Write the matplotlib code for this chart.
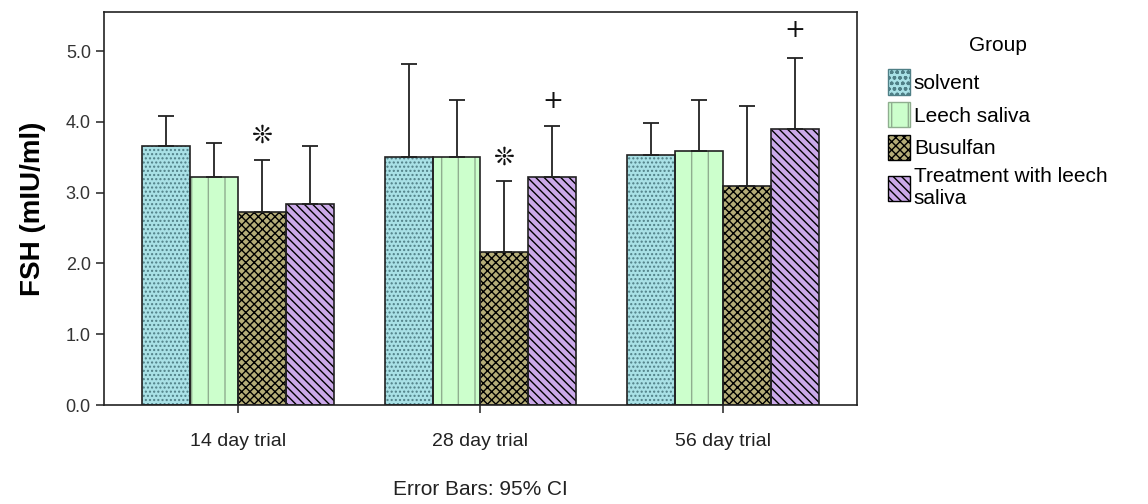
import numpy as np
import matplotlib.pyplot as plt
from matplotlib.patches import Patch

plt.rcParams['font.family'] = ['Liberation Sans', 'DejaVu Sans']

trials = ["14 day trial", "28 day trial", "56 day trial"]
groups = ["solvent", "Leech saliva", "Busulfan", "Treatment with leech\nsaliva"]

# mean FSH per group (rows) and trial (columns)
means = np.array([
    [3.66, 3.50, 3.53],
    [3.22, 3.50, 3.59],
    [2.73, 2.16, 3.09],
    [2.84, 3.22, 3.90],
])
# upper end of 95% CI
upper = np.array([
    [4.08, 4.82, 3.98],
    [3.70, 4.31, 4.31],
    [3.46, 3.16, 4.22],
    [3.66, 3.94, 4.90],
])

# significance marks: (group index, trial index, symbol, y)
marks = [(2, 0, "\u274a", 3.8), (2, 1, "\u274a", 3.5), (3, 1, "+", 4.3), (3, 2, "+", 5.3)]

faces = ["#a9e1e6", "#ccffcc", "#b5ad78", "#cba9e9"]
hatch_cols = ["#4f7f86", "#8fae8f", "#000000", "#000000"]
hatches = ["....", "|", "xxxx", "\\\\\\\\"]

fig = plt.figure(figsize=(11.48, 5.04), dpi=100)
ax = fig.add_axes([0.0906, 0.1964, 0.6559, 0.7796])

x = np.arange(len(trials))
w = 0.198
for i in range(len(groups)):
    pos = x + (i - 1.5) * w
    ax.bar(pos, means[i], w, color=faces[i], edgecolor=hatch_cols[i],
           hatch=hatches[i], linewidth=0, zorder=2)
    ax.bar(pos, means[i], w, fill=False, edgecolor="#222222", linewidth=1.2, zorder=3)
    ax.errorbar(pos, means[i], yerr=[np.zeros(3), upper[i] - means[i]],
                fmt="none", ecolor="#222222", elinewidth=1.3, capsize=6,
                capthick=1.3, zorder=4)

for gi, ti, sym, yv in marks:
    ax.text(x[ti] + (gi - 1.5) * w, yv, sym, ha="center", va="center",
            fontsize=18, color="#111111",
            fontweight="normal" if sym == "+" else "bold", family=["DejaVu Sans"])

ax.set_xlim(-0.554, 2.554)
ax.set_ylim(0, 5.55)
ax.set_yticks(np.arange(0, 5.1, 1.0))
ax.set_yticklabels([f"{v:.1f}" for v in np.arange(0, 5.1, 1.0)])
ax.set_xticks(x)
ax.set_xticklabels(trials, fontsize=14)
ax.tick_params(axis="y", labelsize=13, length=6, width=1.2, colors="#333333")
ax.tick_params(axis="x", length=6, width=1.2, pad=14, colors="#333333", labelcolor="#222222")
for s in ax.spines.values():
    s.set_linewidth(1.2)
    s.set_color("#222222")

ax.set_ylabel("FSH (mIU/ml)", fontsize=20, fontweight="bold", labelpad=14)
ax.set_xlabel("Error Bars: 95% CI", fontsize=15, labelpad=22, color="#222222")

handles = [Patch(facecolor=faces[i], edgecolor=hatch_cols[i], hatch=hatches[i].replace("....", "ooo"),
                 linewidth=1) for i in range(len(groups))]
leg = fig.legend(handles, groups, loc="upper left", bbox_to_anchor=(0.757, 0.965),
                 title="Group", fontsize=15, title_fontsize=15, frameon=False,
                 handlelength=1.05, handleheight=1.5, handletextpad=0.2, labelspacing=0.35)
leg._legend_box.sep = 10

fig.savefig("out.png", dpi=100)
